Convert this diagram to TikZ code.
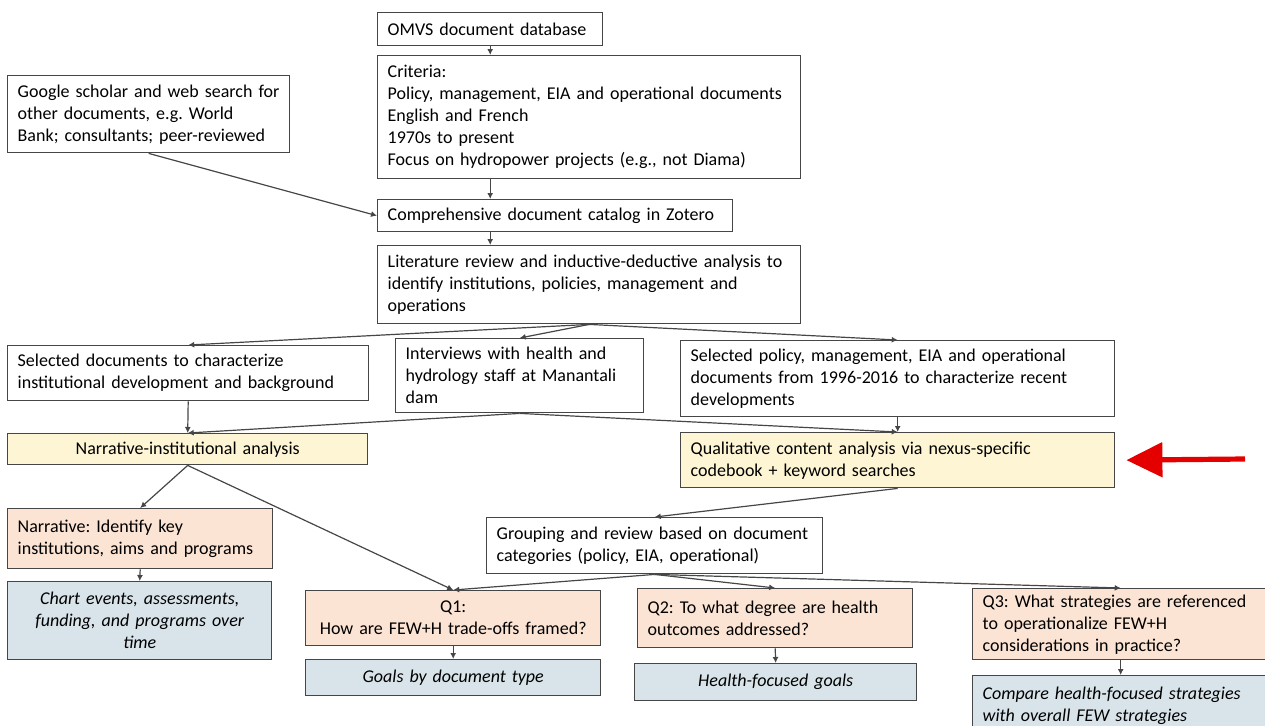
\documentclass[tikz,border=0pt]{standalone}
\usepackage{fontspec}
\setmainfont{Carlito}
\usepackage{xcolor}
\usetikzlibrary{arrows.meta,positioning,calc}
\frenchspacing
\definecolor{yelfill}{RGB}{253,245,212}
\definecolor{peachfill}{RGB}{251,228,212}
\definecolor{bluefill}{RGB}{216,228,234}
\definecolor{edgegray}{RGB}{70,70,70}
\tikzset{
  box/.style    ={draw=edgegray, line width=0.7pt, fill=white, anchor=north west, align=left, inner xsep=5pt, inner ysep=2pt, font=\fontsize{9}{11}\selectfont},
  yelbox/.style ={box, fill=yelfill},
  qbox/.style   ={box, fill=peachfill},
  outbox/.style ={box, fill=bluefill, font=\fontsize{9}{11}\selectfont\itshape},
  arr/.style    ={-{Latex[length=3pt,width=3pt]}, line width=0.6pt, draw=edgegray},
  redarr/.style ={-{Triangle[length=18pt,width=17pt]}, line width=2.6pt, draw=red!90!black},
}
\begin{document}
\begin{tikzpicture}[x=0.5pt,y=-0.5pt]
  \useasboundingbox (0,0) rectangle (1265,725);
  % top chain
  \node[box, text width=102.5pt, minimum height=16.5pt] (omvs) at (377,12) {OMVS document database};
  \node[box, text width=201.5pt, minimum height=61.5pt] (crit) at (377,55) {Criteria:\\Policy, management, EIA and operational documents\\English and French\\1970s to present\\Focus on hydropower projects (e.g., not Diama)};
  \node[box, text width=131pt, minimum height=38.5pt] (google) at (7,75) {Google scholar and web search for\\other documents, e.g. World\\Bank; consultants; peer-reviewed};
  \node[box, text width=167.5pt, minimum height=16pt] (catalog) at (377,199) {Comprehensive document catalog in Zotero};
  \node[box, text width=201.5pt, minimum height=39pt] (lit) at (377,245) {Literature review and inductive-deductive analysis to\\identify institutions, policies, management and\\operations};
  % second row
  \node[box, text width=170.5pt, minimum height=27.5pt] (seldocs) at (7,345) {Selected documents to characterize\\institutional development and background};
  \node[box, text width=114pt, minimum height=37pt] (interv) at (395,338) {Interviews with health and\\hydrology staff at Manantali\\dam};
  \node[box, text width=207pt, minimum height=38pt] (selpol) at (680,340) {Selected policy, management, EIA and operational\\documents from 1996-2016 to characterize recent\\developments};
  % analyses
  \node[yelbox, text width=170pt, minimum height=15.5pt, align=center] (narr) at (7,433) {Narrative-institutional analysis};
  \node[yelbox, text width=207pt, minimum height=27.5pt] (qual) at (680,432) {Qualitative content analysis via nexus-specific\\codebook + keyword searches};
  \node[qbox, text width=122.5pt, minimum height=30pt] (ident) at (7,508) {Narrative: Identify key\\institutions, aims and programs};
  \node[box, text width=158pt, minimum height=28pt] (group) at (486,517) {Grouping and review based on document\\categories (policy, EIA, operational)};
  % questions and outputs
  \node[outbox, text width=122pt, minimum height=39pt, align=center] (chart) at (7,581) {Chart events, assessments,\\funding, and programs over\\time};
  \node[qbox, text width=137.5pt, minimum height=27.5pt, align=center] (qone) at (305,590) {Q1:\\How are FEW+H trade-offs framed?};
  \node[qbox, text width=127.5pt, minimum height=29.5pt] (qtwo) at (637,588) {Q2: To what degree are health\\outcomes addressed?};
  \node[qbox, text width=138pt, minimum height=35.5pt] (qthree) at (972,588) {Q3: What strategies are referenced\\to operationalize FEW+H\\considerations in practice?};
  \node[outbox, text width=137.5pt, minimum height=18pt, align=center] (goals) at (305,659) {Goals by document type};
  \node[outbox, text width=131pt, minimum height=18.5pt, align=center] (health) at (634,663) {Health-focused goals};
  \node[outbox, text width=138pt, minimum height=30pt] (compare) at (972,675) {Compare health-focused strategies\\with overall FEW strategies};
  \coordinate (redtail) at (1245,459);
  % connectors
  \draw[arr] (omvs.south) -- (omvs.south |- crit.north);
  \draw[arr] (crit.south -| omvs.south) -- (catalog.north -| omvs.south);
  \draw[arr] (google.south) -- (catalog.west);
  \draw[arr] (catalog.south -| omvs.south) -- (lit.north -| omvs.south);
  \draw[arr] (lit.south) -- (seldocs.north);
  \draw[arr] (lit.south) -- (interv.north);
  \draw[arr] (lit.south) -- (selpol.north);
  \draw[arr] (seldocs.south) -- (narr.north);
  \draw[arr] (interv.south) -- (narr.north);
  \draw[arr] (interv.south) -- (qual.north);
  \draw[arr] (selpol.south) -- (qual.north);
  \draw[arr] (narr.south) -- (ident.north);
  \draw[arr] (narr.south) -- (qone.north);
  \draw[arr] (qual.south) -- (group.north);
  \draw[arr] (ident.south) -- (chart.north);
  \draw[arr] (group.south) -- (qone.north);
  \draw[arr] (group.south) -- (qtwo.north);
  \draw[arr] (group.south) -- (qthree.north);
  \draw[arr] (qone.south) -- (goals.north);
  \draw[arr] (qtwo.south) -- (health.north);
  \draw[arr] (qthree.south) -- (compare.north);
  \draw[redarr, shorten >=5.5pt] (redtail) -- (qual.east);
\end{tikzpicture}
\end{document}
